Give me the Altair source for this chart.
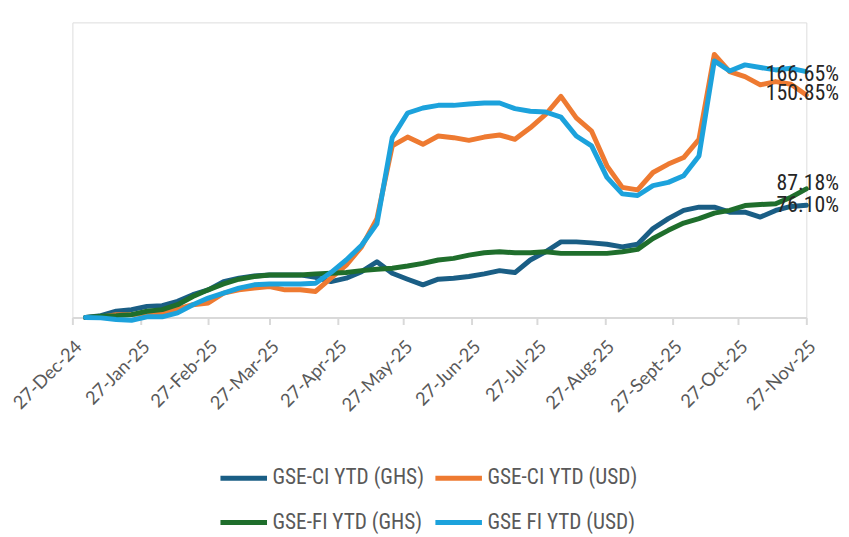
import altair as alt
import pandas as pd

# ---- data -----------------------------------------------------------------
dates = ["2025-01-02", "2025-01-09", "2025-01-16", "2025-01-23", "2025-01-30",
         "2025-02-06", "2025-02-13", "2025-02-20", "2025-02-27", "2025-03-06",
         "2025-03-13", "2025-03-20", "2025-03-27", "2025-04-03", "2025-04-10",
         "2025-04-17", "2025-04-24", "2025-05-01", "2025-05-08", "2025-05-15",
         "2025-05-22", "2025-05-29", "2025-06-05", "2025-06-12", "2025-06-19",
         "2025-06-26", "2025-07-03", "2025-07-10", "2025-07-17", "2025-07-24",
         "2025-07-31", "2025-08-07", "2025-08-14", "2025-08-21", "2025-08-28",
         "2025-09-04", "2025-09-11", "2025-09-18", "2025-09-25", "2025-10-02",
         "2025-10-09", "2025-10-16", "2025-10-23", "2025-10-30", "2025-11-06",
         "2025-11-13", "2025-11-20", "2025-11-27"]

series_names = ["GSE-CI YTD (GHS)", "GSE-CI YTD (USD)", "GSE-FI YTD (GHS)", "GSE FI YTD (USD)"]

ci_ghs = [0, 1.3, 4.3, 5.4, 7.6, 8.1, 11.0, 15.5, 18.8, 24.4, 26.7, 28.2, 28.9, 28.9, 28.9,
          27.3, 24.4, 26.7, 31.1, 37.8, 30.0, 26.0, 22.2, 26.0, 26.7, 27.8, 29.6, 31.8, 30.5,
          39.0, 44.6, 51.3, 51.3, 50.6, 49.7, 47.9, 49.7, 60.3, 67.0, 72.6, 74.8, 74.8, 71.4,
          71.4, 68.1, 72.6, 75.3, 76.10]
ci_usd = [0, 0.2, 2.0, 2.0, 2.7, 3.1, 5.8, 8.7, 9.9, 16.6, 18.8, 20.0, 21.0, 18.8, 18.8,
          17.7, 26.7, 35.6, 47.9, 67.0, 116.3, 122.3, 117.4, 123.0, 121.9, 120.1, 122.3, 123.7,
          120.8, 128.6, 137.6, 149.9, 135.3, 126.3, 102.8, 88.2, 86.5, 98.3, 104.0, 108.4,
          120.8, 178.3, 166.7, 163.3, 157.7, 159.9, 158.1, 150.85]
fi_ghs = [0, 0.9, 1.3, 2.0, 4.3, 5.4, 8.7, 14.3, 18.8, 22.8, 26.0, 27.8, 28.9, 28.9, 28.9,
          29.6, 30.0, 30.5, 31.8, 32.7, 33.4, 34.9, 36.7, 39.0, 40.1, 42.3, 43.9, 44.6, 43.9,
          43.9, 44.6, 43.5, 43.5, 43.5, 43.5, 44.6, 46.2, 53.6, 59.1, 64.0, 67.0, 70.8, 72.6,
          75.9, 76.6, 77.1, 81.5, 87.18]
fi_usd = [0, -0.2, -1.3, -1.8, 0.5, 0.5, 3.2, 8.7, 13.2, 16.6, 20.0, 22.2, 22.8, 22.8, 22.8,
          23.3, 30.5, 39.0, 49.0, 63.6, 121.9, 138.6, 142.0, 143.8, 143.8, 144.7, 145.4, 145.4,
          141.6, 139.8, 139.3, 135.8, 123.0, 116.3, 95.0, 83.8, 82.7, 89.4, 91.6, 96.1, 109.5,
          173.9, 167.1, 171.2, 169.4, 167.8, 168.9, 166.65]

end_labels = ["76.10%", "150.85%", "87.18%", "166.65%"]

tick_dates = ["2024-12-27", "2025-01-27", "2025-02-27", "2025-03-27", "2025-04-27",
              "2025-05-27", "2025-06-27", "2025-07-27", "2025-08-27", "2025-09-27",
              "2025-10-27", "2025-11-27"]
tick_labels = ["27-Dec-24", "27-Jan-25", "27-Feb-25", "27-Mar-25", "27-Apr-25", "27-May-25",
               "27-Jun-25", "27-Jul-25", "27-Aug-25", "27-Sept-25", "27-Oct-25", "27-Nov-25"]

colors = ["#1A5E85", "#EE7A31", "#1F6E2C", "#1CA2DC"]

# ---- build tables ---------------------------------------------------------
all_series = [ci_ghs, ci_usd, fi_ghs, fi_usd]
rows = []
for name, vals in zip(series_names, all_series):
    for d, v in zip(dates, vals):
        rows.append({"date": d, "value": v, "series": name})
df = pd.DataFrame(rows)

lab_df = pd.DataFrame({
    "series": series_names,
    "date": [dates[-1]] * 4,
    "value": [s[-1] for s in all_series],
    "label": end_labels,
})

def dt(s):
    return alt.DateTime(year=int(s[:4]), month=int(s[5:7]), date=int(s[8:10]), utc=True)

label_expr = ("[" + ",".join(f"'{l}'" for l in tick_labels) + "][indexof(["
              + ",".join(f"'{d[:7]}'" for d in tick_dates)
              + "], utcFormat(datum.value, '%Y-%m'))]")

x_scale = alt.Scale(type="utc", domain=[dt(tick_dates[0]), dt(tick_dates[-1])])
y_scale = alt.Scale(domain=[0, 200], nice=False, zero=False)

NARROW = "'Liberation Sans Narrow', 'Arial Narrow', 'Roboto Condensed', Roboto, sans-serif"

x_axis = alt.Axis(
    values=[dt(d) for d in tick_dates],
    labelExpr=label_expr,
    title=None,
    grid=False,
    labelAngle=-45,
    labelAlign="right",
    labelBaseline="middle",
    labelPadding=19,
    labelOffset=6,
    labelFont="Lato",
    labelFontSize=18.5,
    labelColor="#595959",
    labelOverlap=False,
    labelFlush=False,
    domainColor="#d9d9d9",
    domainWidth=2,
    tickColor="#d9d9d9",
    tickWidth=2,
    tickSize=7,
)

lines = alt.Chart(df).mark_line(
    strokeWidth=5, strokeJoin="round", strokeCap="round"
).encode(
    x=alt.X("date:T", scale=x_scale, axis=x_axis),
    y=alt.Y("value:Q", scale=y_scale, axis=None),
    color=alt.Color(
        "series:N",
        scale=alt.Scale(domain=series_names, range=colors),
        sort=series_names,
        legend=alt.Legend(
            orient="none", legendX=147, legendY=434, columns=2, direction="horizontal",
            title=None,
            symbolType="stroke", symbolSize=2209, symbolStrokeWidth=5,
            labelFont=NARROW, labelFontSize=21.5, labelColor="#595959",
            labelOffset=3, columnPadding=0, rowPadding=8, labelLimit=300, padding=0,
        ),
    ),
    detail="series:N",
)

dy_map = {"GSE-CI YTD (GHS)": 0, "GSE-CI YTD (USD)": -1.5,
          "GSE-FI YTD (GHS)": -5.5, "GSE FI YTD (USD)": 2}
text_layers = []
for name in series_names:
    text_layers.append(
        alt.Chart(lab_df[lab_df.series == name]).mark_text(
            align="right", baseline="middle", dx=33, dy=dy_map[name],
            font=NARROW, fontSize=22, color="#262626",
        ).encode(
            x=alt.X("date:T", scale=x_scale),
            y=alt.Y("value:Q", scale=y_scale),
            text="label:N",
        )
    )

chart = alt.layer(lines, *text_layers).properties(
    width=741,
    height=298,
    autosize=alt.AutoSizeParams(type="none"),
    padding={"left": 65, "top": 12, "right": 35, "bottom": 219},
).configure_view(stroke=None).configure(background="white")

chart.save("out.html", embed_options={"renderer": "svg", "actions": False})
